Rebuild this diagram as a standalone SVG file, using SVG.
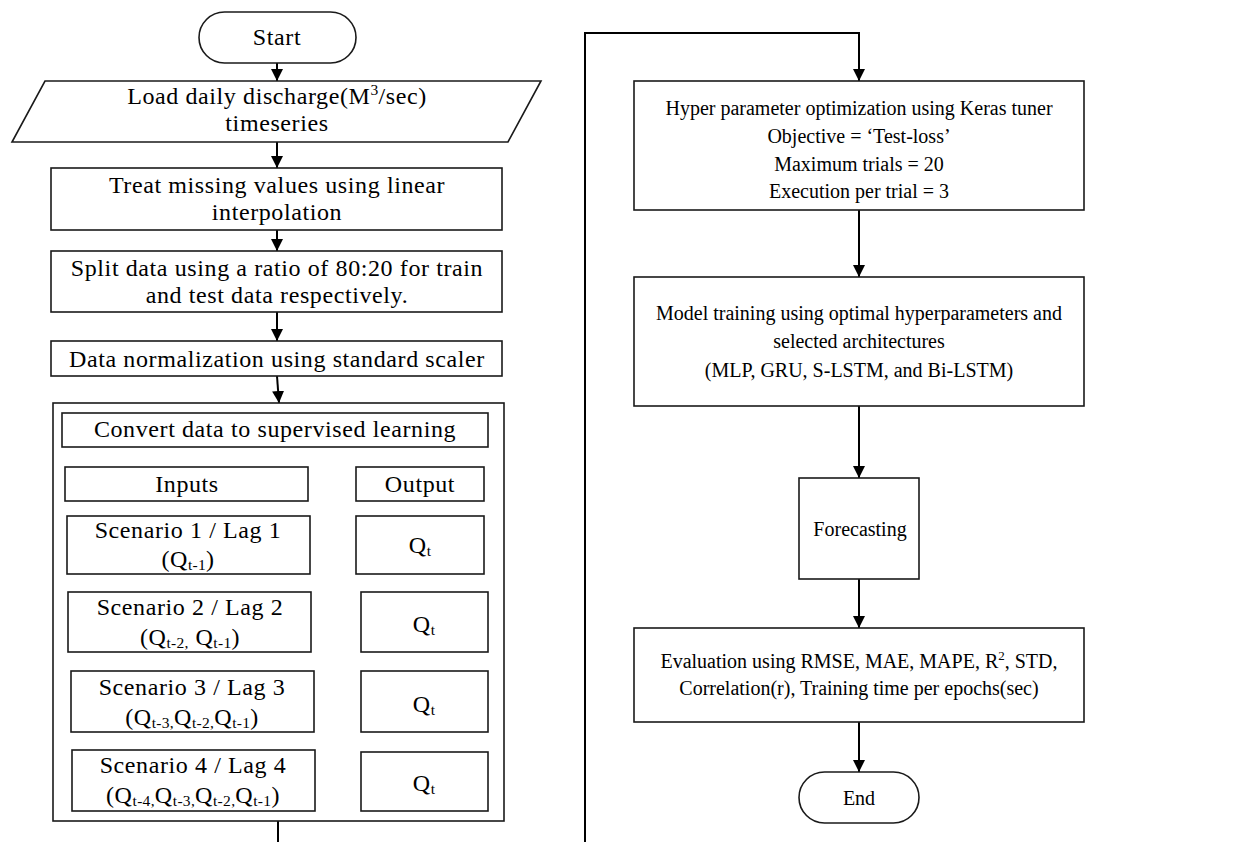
<svg xmlns="http://www.w3.org/2000/svg" width="1244" height="842" viewBox="0 0 1244 842">
  <style>
    .box { fill: #ffffff; stroke: #1a1a1a; stroke-width: 1.6; }
    .edge { fill: none; stroke: #000000; stroke-width: 2; }
    .lt { font-family: "Liberation Serif", "Times New Roman", serif; font-size: 24px; letter-spacing: 0.6px; fill: #000; text-anchor: middle; }
    .rt { font-family: "Liberation Serif", "Times New Roman", serif; font-size: 20px; fill: #000; text-anchor: middle; }
    .sub { font-size: 15.5px; letter-spacing: 0.3px; }
  </style>
  <defs>
    <marker id="arrow" markerUnits="userSpaceOnUse" markerWidth="12" markerHeight="12" refX="12" refY="6" orient="auto">
      <path d="M0,0 L12,6 L0,12 z" fill="#000"/>
    </marker>
  </defs>
  <rect width="1244" height="842" fill="#ffffff"/>

  <!-- connectors -->
  <g id="connectors">
    <line class="edge" x1="277" y1="63" x2="277" y2="81" marker-end="url(#arrow)"/>
    <line class="edge" x1="277" y1="142" x2="277" y2="168" marker-end="url(#arrow)"/>
    <line class="edge" x1="277" y1="230" x2="277" y2="251" marker-end="url(#arrow)"/>
    <line class="edge" x1="277" y1="312" x2="277" y2="341" marker-end="url(#arrow)"/>
    <line class="edge" x1="277" y1="376" x2="279" y2="403" marker-end="url(#arrow)"/>
    <line class="edge" x1="187" y1="447" x2="187" y2="467" marker-end="url(#arrow)"/>
    <line class="edge" x1="308" y1="484" x2="356" y2="484" marker-end="url(#arrow)"/>
    <line class="edge" x1="188" y1="501" x2="188" y2="516" marker-end="url(#arrow)"/>
    <line class="edge" x1="310" y1="545" x2="356" y2="545" marker-end="url(#arrow)"/>
    <line class="edge" x1="190" y1="574" x2="190" y2="592" marker-end="url(#arrow)"/>
    <line class="edge" x1="311" y1="622" x2="361" y2="622" marker-end="url(#arrow)"/>
    <line class="edge" x1="192" y1="652" x2="192" y2="671" marker-end="url(#arrow)"/>
    <line class="edge" x1="314" y1="702" x2="361" y2="702" marker-end="url(#arrow)"/>
    <line class="edge" x1="193" y1="732" x2="193" y2="750" marker-end="url(#arrow)"/>
    <line class="edge" x1="315" y1="781" x2="361" y2="781" marker-end="url(#arrow)"/>
    <line class="edge" x1="278" y1="821" x2="278" y2="842"/>
    <polyline class="edge" points="585,842 585,33 859,33 859,81" marker-end="url(#arrow)"/>
    <line class="edge" x1="859" y1="210" x2="859" y2="277" marker-end="url(#arrow)"/>
    <line class="edge" x1="859" y1="406" x2="859" y2="478" marker-end="url(#arrow)"/>
    <line class="edge" x1="859" y1="579" x2="859" y2="628" marker-end="url(#arrow)"/>
    <line class="edge" x1="859" y1="722" x2="859" y2="772" marker-end="url(#arrow)"/>
  </g>

  <!-- left column -->
  <g id="start">
    <rect class="box" x="199" y="12" width="157" height="51" rx="25.5"/>
    <text class="lt" x="277" y="45">Start</text>
  </g>
  <g id="load">
    <polygon class="box" points="45,81 541,81 508,142 12,142"/>
    <text class="lt" x="277" y="104">Load daily discharge(M<tspan class="sub" dy="-9">3</tspan><tspan dy="9">/sec)</tspan></text>
    <text class="lt" x="277" y="131">timeseries</text>
  </g>
  <g id="missing">
    <rect class="box" x="51" y="168" width="451" height="62"/>
    <text class="lt" x="277" y="193">Treat missing values using linear</text>
    <text class="lt" x="277" y="220">interpolation</text>
  </g>
  <g id="split">
    <rect class="box" x="51" y="251" width="451" height="61"/>
    <text class="lt" x="277" y="276">Split data using a ratio of 80:20 for train</text>
    <text class="lt" x="277" y="303">and test data respectively.</text>
  </g>
  <g id="normalize">
    <rect class="box" x="51" y="341" width="451" height="35"/>
    <text class="lt" x="277" y="367">Data normalization using standard scaler</text>
  </g>
  <g id="supervised">
    <rect class="box" x="53" y="403" width="451" height="418"/>
    <g id="convert">
      <rect class="box" x="62" y="413" width="426" height="34"/>
      <text class="lt" x="275" y="437">Convert data to supervised learning</text>
    </g>
    <g id="inputs">
      <rect class="box" x="65" y="467" width="243" height="34"/>
      <text class="lt" x="187" y="492">Inputs</text>
    </g>
    <g id="output">
      <rect class="box" x="356" y="467" width="128" height="34"/>
      <text class="lt" x="420" y="492">Output</text>
    </g>
    <g id="scenario1">
      <rect class="box" x="67" y="516" width="243" height="58"/>
      <text class="lt" x="188" y="538">Scenario 1 / Lag 1</text>
      <text class="lt" x="188" y="567">(Q<tspan class="sub" dy="3">t-1</tspan><tspan dy="-3">)</tspan></text>
    </g>
    <g id="target1">
      <rect class="box" x="356" y="516" width="128" height="58"/>
      <text class="lt" x="420" y="553">Q<tspan class="sub" dy="3">t</tspan></text>
    </g>
    <g id="scenario2">
      <rect class="box" x="68" y="592" width="243" height="60"/>
      <text class="lt" x="190" y="615">Scenario 2 / Lag 2</text>
      <text class="lt" x="190" y="645">(Q<tspan class="sub" dy="3">t-2,</tspan><tspan dy="-3"> Q</tspan><tspan class="sub" dy="3">t-1</tspan><tspan dy="-3">)</tspan></text>
    </g>
    <g id="target2">
      <rect class="box" x="361" y="592" width="127" height="60"/>
      <text class="lt" x="424" y="632">Q<tspan class="sub" dy="3">t</tspan></text>
    </g>
    <g id="scenario3">
      <rect class="box" x="71" y="671" width="243" height="61"/>
      <text class="lt" x="192" y="695">Scenario 3 / Lag 3</text>
      <text class="lt" x="192" y="725">(Q<tspan class="sub" dy="3">t-3,</tspan><tspan dy="-3">Q</tspan><tspan class="sub" dy="3">t-2,</tspan><tspan dy="-3">Q</tspan><tspan class="sub" dy="3">t-1</tspan><tspan dy="-3">)</tspan></text>
    </g>
    <g id="target3">
      <rect class="box" x="361" y="671" width="127" height="61"/>
      <text class="lt" x="424" y="712">Q<tspan class="sub" dy="3">t</tspan></text>
    </g>
    <g id="scenario4">
      <rect class="box" x="72" y="750" width="243" height="61"/>
      <text class="lt" x="193" y="773">Scenario 4 / Lag 4</text>
      <text class="lt" x="193" y="803">(Q<tspan class="sub" dy="3">t-4,</tspan><tspan dy="-3">Q</tspan><tspan class="sub" dy="3">t-3,</tspan><tspan dy="-3">Q</tspan><tspan class="sub" dy="3">t-2,</tspan><tspan dy="-3">Q</tspan><tspan class="sub" dy="3">t-1</tspan><tspan dy="-3">)</tspan></text>
    </g>
    <g id="target4">
      <rect class="box" x="361" y="752" width="127" height="59"/>
      <text class="lt" x="424" y="791">Q<tspan class="sub" dy="3">t</tspan></text>
    </g>
  </g>

  <!-- right column -->
  <g id="tuning">
    <rect class="box" x="634" y="81" width="450" height="129"/>
    <text class="rt" x="859" y="115">Hyper parameter optimization using Keras tuner</text>
    <text class="rt" x="859" y="143">Objective = ‘Test-loss’</text>
    <text class="rt" x="859" y="171">Maximum trials = 20</text>
    <text class="rt" x="859" y="198">Execution per trial = 3</text>
  </g>
  <g id="training">
    <rect class="box" x="634" y="277" width="450" height="129"/>
    <text class="rt" x="859" y="320">Model training using optimal hyperparameters and</text>
    <text class="rt" x="859" y="348">selected architectures</text>
    <text class="rt" x="859" y="377">(MLP, GRU, S-LSTM, and Bi-LSTM)</text>
  </g>
  <g id="forecasting">
    <rect class="box" x="799" y="478" width="120" height="101"/>
    <text class="rt" x="860" y="536">Forecasting</text>
  </g>
  <g id="evaluation">
    <rect class="box" x="634" y="628" width="450" height="94"/>
    <text class="rt" x="859" y="668">Evaluation using RMSE, MAE, MAPE, R<tspan font-size="13" dy="-8">2</tspan><tspan dy="8">, STD,</tspan></text>
    <text class="rt" x="859" y="695">Correlation(r), Training time per epochs(sec)</text>
  </g>
  <g id="end">
    <rect class="box" x="799" y="772" width="120" height="51" rx="25.5"/>
    <text class="rt" x="859" y="805">End</text>
  </g>
</svg>
